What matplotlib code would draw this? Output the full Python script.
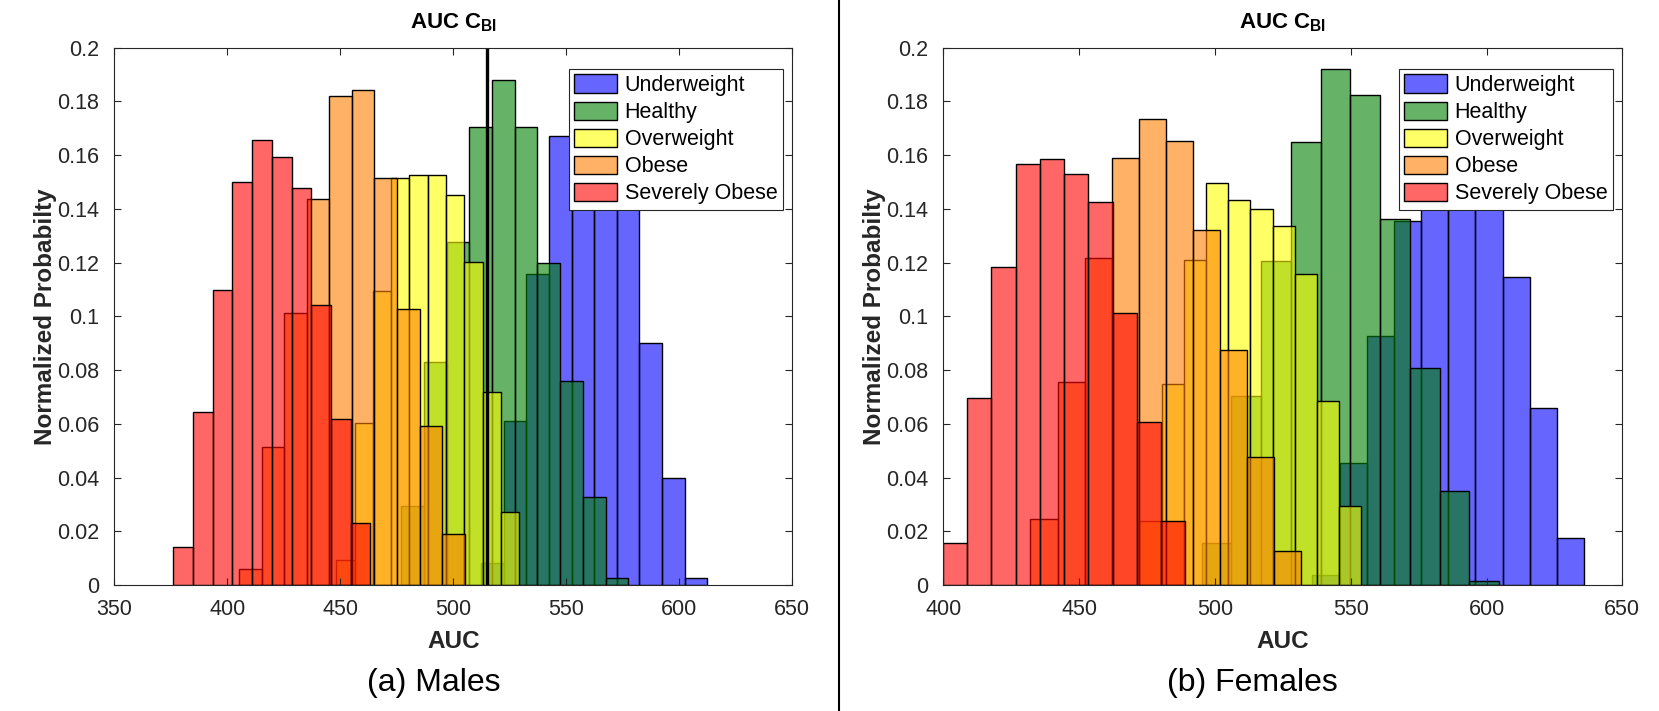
import numpy as np
import matplotlib
matplotlib.use("Agg")
import matplotlib.pyplot as plt
from matplotlib.patches import Patch
from matplotlib.lines import Line2D
from matplotlib.ticker import FormatStrFormatter

plt.rcParams['font.family'] = ['Liberation Sans', 'DejaVu Sans']
plt.rcParams['mathtext.fontset'] = 'custom'
plt.rcParams['mathtext.rm'] = 'Liberation Sans'
plt.rcParams['mathtext.bf'] = 'Liberation Sans:bold'

# ==== data (normalized probability per bin) ====
groups = ['Underweight', 'Healthy', 'Overweight', 'Obese', 'Severely Obese']
colors = [(0, 0, 1), (0, 0.5, 0), (1, 1, 0), (1, 0.5, 0), (1, 0, 0)]

# Males
m_start = [512.3, 477.0, 448.2, 405.3, 376.1]
m_width = [10.0, 10.04, 8.1, 9.97, 8.72]
m_underweight = [0.0082, 0.061, 0.1157, 0.1672, 0.188, 0.177, 0.1506, 0.09, 0.0398, 0.0025]
m_healthy = [0.0294, 0.083, 0.1275, 0.1705, 0.1878, 0.1705, 0.1197, 0.0758, 0.0327, 0.0025]
m_overweight = [0.0092, 0.0602, 0.1093, 0.1515, 0.1525, 0.1525, 0.1451, 0.1202, 0.0717, 0.0271]
m_obese = [0.0059, 0.0515, 0.1012, 0.1435, 0.1818, 0.1842, 0.1515, 0.1027, 0.0592, 0.0189]
m_severe = [0.0141, 0.0644, 0.1096, 0.15, 0.1656, 0.1594, 0.1477, 0.1041, 0.0617, 0.0229]
m_cbi = 514.8

# Females
f_start = [535.9, 495.1, 472.2, 432.1, 399.9]
f_width = [10.0, 10.95, 8.17, 9.95, 8.92]
f_underweight = [0.0036, 0.0454, 0.0927, 0.1356, 0.165, 0.185, 0.175, 0.1146, 0.0658, 0.0174]
f_healthy = [0.0155, 0.0703, 0.1205, 0.1649, 0.192, 0.1823, 0.1362, 0.0807, 0.0348, 0.0015]
f_overweight = [0.0238, 0.0747, 0.1209, 0.1496, 0.1432, 0.1399, 0.1335, 0.1157, 0.0684, 0.0293]
f_obese = [0.0245, 0.0755, 0.1217, 0.1589, 0.1734, 0.1652, 0.1322, 0.0874, 0.0477, 0.0125]
f_severe = [0.0156, 0.0697, 0.1185, 0.1568, 0.1585, 0.1531, 0.1426, 0.1012, 0.0606, 0.0238]

m_xlim = (350, 650)
f_xlim = (400, 650)
y_ticks = [0, 0.02, 0.04, 0.06, 0.08, 0.1, 0.12, 0.14, 0.16, 0.18, 0.2]

FS_TICK = 15.5
FS_LEG = 15.5
FS_LAB = 17.5
FS_TITLE = 16
TXT = '#262626'


def draw_panel(ax, starts, widths, series, xlim):
    for s, w, h, c in zip(starts, widths, series, colors):
        h = np.array(h)
        left = s + w * np.arange(len(h))
        ax.bar(left, h, width=w, align='edge', color=(*c, 0.6),
               edgecolor='black', linewidth=1.0)
    ax.set_xlim(*xlim)
    ax.set_ylim(0, 0.2)
    ax.set_yticks(y_ticks)
    ax.yaxis.set_major_formatter(FormatStrFormatter('%g'))
    ax.tick_params(direction='in', top=True, right=True, length=5,
                   labelsize=FS_TICK, colors=TXT, labelcolor=TXT, width=0.8)
    ax.tick_params(axis='x', pad=10)
    ax.tick_params(axis='y', pad=11)
    for sp in ax.spines.values():
        sp.set_color(TXT)
        sp.set_linewidth(0.8)
    ax.set_title(r'AUC C$_\mathbf{BI}$', fontsize=FS_TITLE, fontweight='bold', pad=14)
    ax.set_xlabel('AUC', fontsize=FS_LAB, fontweight='bold', color=TXT, labelpad=7)
    ax.set_ylabel('Normalized Probabilty', fontsize=FS_LAB, fontweight='bold',
                  color=TXT, labelpad=0)
    handles = [Patch(facecolor=(*c, 0.6), edgecolor='black', linewidth=1.0)
               for c in colors]
    leg = ax.legend(handles, groups, loc='upper right',
                    bbox_to_anchor=(0.986, 0.96), borderaxespad=0,
                    fontsize=FS_LEG, fancybox=False, framealpha=1,
                    edgecolor=TXT, handlelength=2.0, handleheight=0.95,
                    labelspacing=0.25, borderpad=0.25, handletextpad=0.35)
    leg.get_frame().set_linewidth(0.8)


fig = plt.figure(figsize=(16.59, 7.11), dpi=100)
ax1 = fig.add_axes([0.0689, 0.1772, 0.4087, 0.7559])
ax2 = fig.add_axes([0.5686, 0.1772, 0.4093, 0.7559])

draw_panel(ax1, m_start, m_width,
           [m_underweight, m_healthy, m_overweight, m_obese, m_severe], m_xlim)
ax1.axvline(m_cbi, color='black', linewidth=2.4)

draw_panel(ax2, f_start, f_width,
           [f_underweight, f_healthy, f_overweight, f_obese, f_severe], f_xlim)

fig.text(0.2615, 0.040, '(a) Males', ha='center', va='center', fontsize=23)
fig.text(0.7548, 0.040, '(b) Females', ha='center', va='center', fontsize=23)
fig.add_artist(Line2D([0.5057, 0.5057], [0, 1], color='black', linewidth=1.5,
                      transform=fig.transFigure))

fig.savefig('out.png', dpi=100)
